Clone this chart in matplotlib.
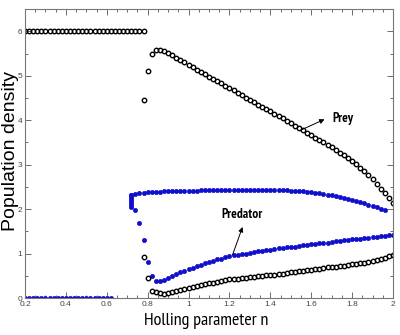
import numpy as np
import matplotlib
matplotlib.use("Agg")
import matplotlib.pyplot as plt
from matplotlib import font_manager
from matplotlib.ticker import MultipleLocator

step = 0.02

# prey stays at carrying capacity, predator extinct
prey_cap_start = 0.20
prey_cap = [6.0] * 30
pred_zero_start = 0.20
pred_zero = [0.0] * 22

# upper prey branch
prey_up_start = 0.78
prey_up = [4.45, 5.11, 5.50, 5.57, 5.59, 5.56, 5.51, 5.46, 5.41, 5.35,
           5.30, 5.25, 5.19, 5.14, 5.09, 5.04, 4.98, 4.93, 4.88, 4.83,
           4.77, 4.72, 4.67, 4.62, 4.56, 4.51, 4.46, 4.41, 4.35, 4.30,
           4.25, 4.20, 4.14, 4.09, 4.04, 3.98, 3.93, 3.88, 3.83, 3.77,
           3.72, 3.67, 3.61, 3.56, 3.50, 3.45, 3.39, 3.33, 3.27, 3.21,
           3.15, 3.08, 3.01, 2.93, 2.85, 2.76, 2.67, 2.57, 2.46, 2.36,
           2.25, 2.13]

# lower prey branch
prey_low_start = 0.78
prey_low = [0.93, 0.45, 0.17, 0.13, 0.11, 0.10, 0.12, 0.14, 0.16, 0.18,
            0.21, 0.23, 0.25, 0.27, 0.29, 0.31, 0.33, 0.35, 0.37, 0.39,
            0.40, 0.42, 0.43, 0.44, 0.45, 0.46, 0.47, 0.48, 0.49, 0.50,
            0.51, 0.52, 0.53, 0.54, 0.55, 0.57, 0.58, 0.59, 0.60, 0.61,
            0.63, 0.64, 0.65, 0.66, 0.67, 0.69, 0.70, 0.71, 0.72, 0.73,
            0.75, 0.76, 0.77, 0.78, 0.80, 0.82, 0.84, 0.86, 0.88, 0.91,
            0.94, 0.97]

# predator points piled up at n = 0.72
pred_stack_n = 0.72
pred_stack = [2.04, 2.09, 2.14, 2.19, 2.24, 2.28, 2.31]

# upper predator branch
pred_up_start = 0.72
pred_up = [2.33, 2.35, 2.36, 2.37, 2.38, 2.38, 2.39, 2.39, 2.40, 2.40,
           2.41, 2.41, 2.41, 2.42, 2.42, 2.42, 2.42, 2.43, 2.43, 2.43,
           2.43, 2.43, 2.43, 2.43, 2.43, 2.43, 2.43, 2.43, 2.43, 2.43,
           2.43, 2.43, 2.43, 2.43, 2.43, 2.43, 2.43, 2.43, 2.43, 2.42,
           2.42, 2.41, 2.40, 2.39, 2.38, 2.37, 2.36, 2.35, 2.33, 2.32,
           2.30, 2.28, 2.26, 2.24, 2.21, 2.19, 2.16, 2.13, 2.10, 2.07,
           2.04, 2.01, 1.98]

# lower predator branch
pred_low_start = 0.74
pred_low = [1.98, 1.68, 1.31, 0.82, 0.49, 0.39, 0.39, 0.41, 0.46, 0.50,
            0.54, 0.58, 0.62, 0.65, 0.68, 0.72, 0.75, 0.79, 0.82, 0.84,
            0.87, 0.89, 0.92, 0.94, 0.96, 0.97, 0.99, 1.00, 1.02, 1.03,
            1.05, 1.06, 1.08, 1.09, 1.10, 1.12, 1.13, 1.14, 1.15, 1.16,
            1.18, 1.19, 1.20, 1.21, 1.22, 1.23, 1.24, 1.25, 1.26, 1.28,
            1.29, 1.30, 1.31, 1.32, 1.33, 1.34, 1.35, 1.36, 1.37, 1.38,
            1.39, 1.40, 1.41, 1.42]

x_ticks = [0.2, 0.4, 0.6, 0.8, 1.0, 1.2, 1.4, 1.6, 1.8, 2.0]
x_ticklabels = ['0.2', '0.4', '0.6', '0.8', '1', '1.2', '1.4', '1.6', '1.8', '2']
y_ticks = [0, 1, 2, 3, 4, 5, 6]


def grid(start, vals):
    return start + step * np.arange(len(vals))


# pick a narrow sans face (Arial Narrow look-alike)
names = {f.name for f in font_manager.fontManager.ttflist}
narrow = 'Liberation Sans'
for cand in ['Arial Narrow', 'Liberation Sans Narrow', 'PT Sans Narrow',
             'Roboto Condensed', 'Archivo Narrow']:
    if cand in names:
        narrow = cand
        break

blue = '#1010cc'
prey_style = dict(ls='none', marker='o', ms=3.2, mfc='none', mec='black', mew=1.0)
pred_style = dict(ls='none', marker='o', ms=3.0, mfc=blue, mec=blue, mew=0.5)

fig = plt.figure(figsize=(4, 3.35), dpi=100)
ax = fig.add_axes([0.0625, 0.110, 0.92, 0.863])

ax.plot(grid(pred_zero_start, pred_zero), pred_zero, **pred_style)
ax.plot([pred_stack_n] * len(pred_stack), pred_stack, **pred_style)
ax.plot(grid(pred_up_start, pred_up), pred_up, **pred_style)
ax.plot(grid(pred_low_start, pred_low), pred_low, **pred_style)

ax.plot(grid(prey_cap_start, prey_cap), prey_cap, **prey_style)
ax.plot(grid(prey_up_start, prey_up), prey_up, **prey_style)
ax.plot(grid(prey_low_start, prey_low), prey_low, **prey_style)

ax.set_xlim(0.2, 2.0)
ax.set_ylim(0, 6.5)
ax.xaxis.set_minor_locator(MultipleLocator(0.05))
ax.yaxis.set_minor_locator(MultipleLocator(0.5))
ax.set_xticks(x_ticks)
ax.set_xticklabels(x_ticklabels, family='Liberation Sans')
ax.set_yticks(y_ticks)
ax.set_yticklabels([str(v) for v in y_ticks], family='Liberation Sans')

ax.tick_params(which='both', direction='in', top=True, right=True,
               colors='#555555', labelsize=6, labelcolor='#444444', pad=2)
ax.tick_params(which='major', length=4, width=0.6)
ax.tick_params(which='minor', length=2, width=0.6)
for sp in ax.spines.values():
    sp.set_color('#777777')
    sp.set_linewidth(0.8)

ax.set_xlabel('Holling parameter n', fontsize=13, family=narrow)
ax.xaxis.set_label_coords(0.492, -0.052)
ax.set_ylabel('Population density', fontsize=14, family='Liberation Sans')
ax.yaxis.set_label_coords(-0.017, 0.509)

arrow = dict(arrowstyle='-|>', color='black', lw=0.7, mutation_scale=7,
             shrinkA=0, shrinkB=0)
ax.text(1.755, 4.05, 'Prey', fontsize=9.5, fontweight='bold', family=narrow,
        ha='center', va='center')
ax.annotate('', xy=(1.665, 4.02), xytext=(1.55, 3.78), arrowprops=arrow)
ax.text(1.26, 1.87, 'Predator', fontsize=9.5, fontweight='bold', family=narrow,
        ha='center', va='center')
ax.annotate('', xy=(1.264, 1.60), xytext=(1.215, 0.97), arrowprops=arrow)

fig.savefig('out.png', dpi=100)
